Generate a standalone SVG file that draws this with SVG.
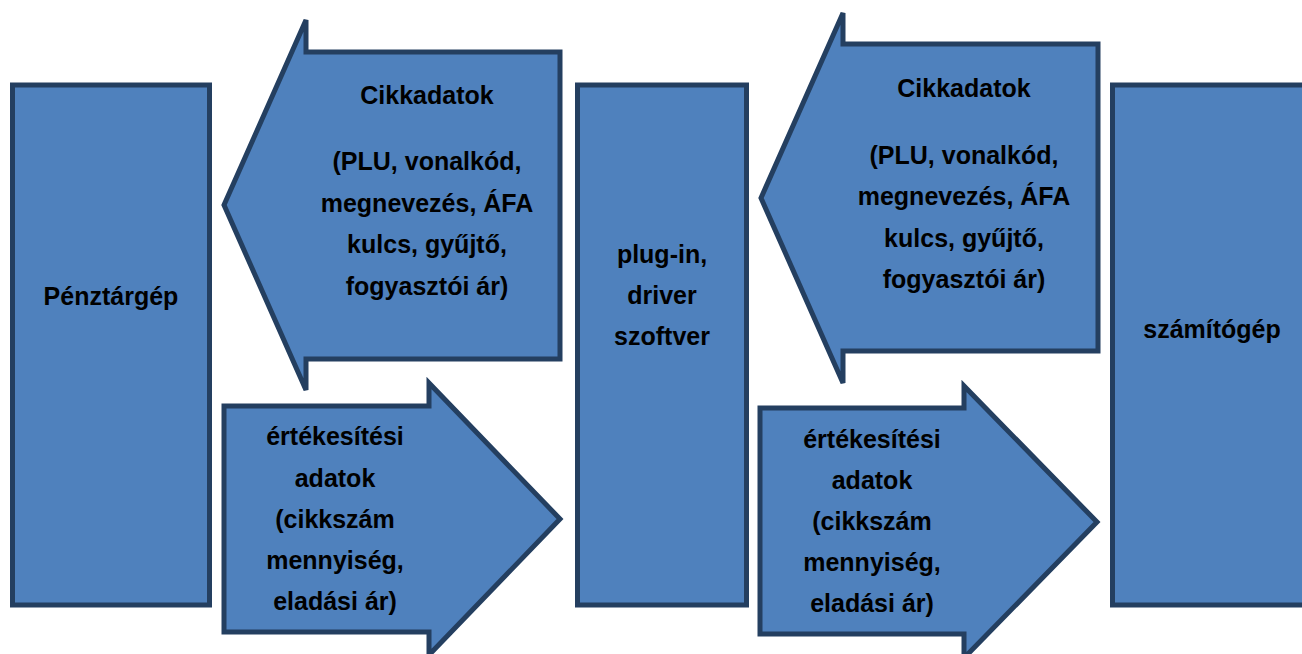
<svg xmlns="http://www.w3.org/2000/svg" width="1302" height="654" viewBox="0 0 1302 654">
<style>
.shape{fill:#4F81BD;stroke:#243F60;stroke-width:5;stroke-linejoin:miter}
text{font-family:"Liberation Sans",Arial,sans-serif;font-weight:bold;font-size:25px;fill:#000;text-anchor:middle}
</style>
<rect width="1302" height="654" fill="#fff"/>
<g id="penztargep">
<rect class="shape" x="12.5" y="85" width="197" height="520"/>
<text x="111" y="305">Pénztárgép</text>
</g>
<g id="plugin">
<rect class="shape" x="577.5" y="85" width="169" height="520"/>
<text x="662" y="263">plug-in,</text>
<text x="662" y="304">driver</text>
<text x="662" y="345">szoftver</text>
</g>
<g id="szamitogep">
<rect class="shape" x="1112.5" y="85" width="200" height="520"/>
<text x="1212" y="338">számítógép</text>
</g>
<g id="connectors">
<g id="arrow-cikk-1">
<polygon class="shape" points="224,205 306,20 306,52 560,52 560,359 306,359 306,390"/>
<text x="427" y="104">Cikkadatok</text>
<text x="427" y="170">(PLU, vonalkód,</text>
<text x="427" y="212">megnevezés, ÁFA</text>
<text x="427" y="253">kulcs, gyűjtő,</text>
<text x="427" y="295">fogyasztói ár)</text>
</g>
<g id="arrow-ert-1">
<polygon class="shape" points="224,406 429,406 429,383 560,519 429,655 429,632 224,632"/>
<text x="335" y="445">értékesítési</text>
<text x="335" y="487">adatok</text>
<text x="335" y="528">(cikkszám</text>
<text x="335" y="569">mennyiség,</text>
<text x="335" y="610">eladási ár)</text>
</g>
<g id="arrow-cikk-2">
<polygon class="shape" points="761,198 843,13 843,44 1098,44 1098,351 843,351 843,383"/>
<text x="964" y="97">Cikkadatok</text>
<text x="964" y="164">(PLU, vonalkód,</text>
<text x="964" y="205">megnevezés, ÁFA</text>
<text x="964" y="247">kulcs, gyűjtő,</text>
<text x="964" y="288">fogyasztói ár)</text>
</g>
<g id="arrow-ert-2">
<polygon class="shape" points="760,408 964,408 964,386 1097,522 964,658 964,634 760,634"/>
<text x="872" y="448">értékesítési</text>
<text x="872" y="489">adatok</text>
<text x="872" y="530">(cikkszám</text>
<text x="872" y="571">mennyiség,</text>
<text x="872" y="612">eladási ár)</text>
</g>
</g>
</svg>
